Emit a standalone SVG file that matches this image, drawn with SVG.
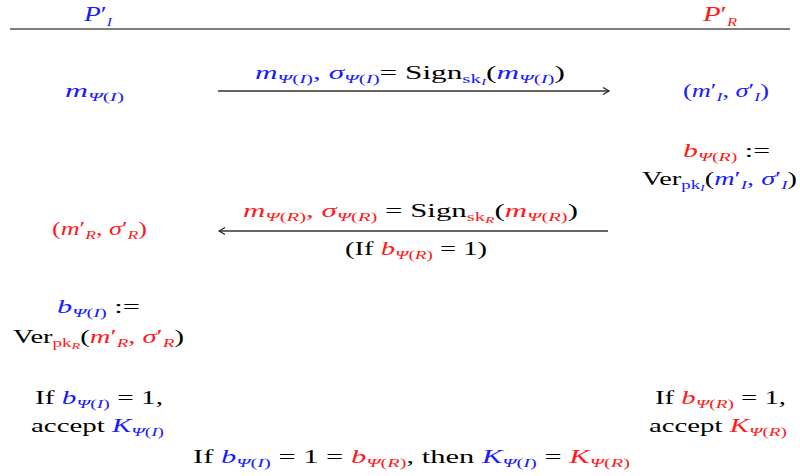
<svg xmlns="http://www.w3.org/2000/svg" width="800" height="476" viewBox="0 0 800 476">
<defs>
<style>
text{font-family:"Liberation Serif","DejaVu Serif",serif;font-size:18px;fill:#000}
.b{fill:#1a1aff}.r{fill:#ff1a1a}.i{font-style:italic}.s{font-size:12px}.ss{font-size:9px}.h{font-size:21px}
.arr{stroke:#333;stroke-width:1.3;fill:none}
</style>
<marker id="hR" markerWidth="10" markerHeight="10" refX="7" refY="4" orient="auto" markerUnits="userSpaceOnUse"><path d="M1,0.5 L7,4 L1,7.5" fill="none" stroke="#222" stroke-width="1.2"/></marker>
<marker id="hL" markerWidth="10" markerHeight="10" refX="1" refY="4" orient="auto" markerUnits="userSpaceOnUse"><path d="M7,0.5 L1,4 L7,7.5" fill="none" stroke="#222" stroke-width="1.2"/></marker>
</defs>
<g id="header">
<text x="98" y="21" text-anchor="middle" class="b h" textLength="28" lengthAdjust="spacingAndGlyphs"><tspan class="i">P</tspan>′<tspan class="s i" dy="5">I</tspan></text>
<text x="720" y="21" text-anchor="middle" class="r h" textLength="34" lengthAdjust="spacingAndGlyphs"><tspan class="i">P</tspan>′<tspan class="s i" dy="5">R</tspan></text>
<line x1="10" y1="29" x2="790" y2="29" stroke="#000" stroke-width="1.2"/>
</g>
<g id="connectors">
<line class="arr" x1="218" y1="91" x2="609" y2="91" marker-end="url(#hR)"/>
<line class="arr" x1="219" y1="231" x2="608" y2="231" marker-start="url(#hL)"/>
</g>
<g id="mI">
<text x="94.5" y="97" text-anchor="middle" class="b" textLength="59" lengthAdjust="spacingAndGlyphs"><tspan class="i">m</tspan><tspan class="s i" dy="4">Ψ</tspan><tspan class="s">(</tspan><tspan class="s i">I</tspan><tspan class="s">)</tspan></text>
</g>
<g id="msg1">
<text x="410" y="79" text-anchor="middle" textLength="310" lengthAdjust="spacingAndGlyphs"><tspan class="b i">m</tspan><tspan class="b s i" dy="4">Ψ</tspan><tspan class="b s">(</tspan><tspan class="b s i">I</tspan><tspan class="b s">)</tspan><tspan class="b" dy="-4">, </tspan><tspan class="b i">σ</tspan><tspan class="b s i" dy="4">Ψ</tspan><tspan class="b s">(</tspan><tspan class="b s i">I</tspan><tspan class="b s">)</tspan><tspan dy="-4">= Sign</tspan><tspan class="b s" dy="4">sk</tspan><tspan class="b ss i" dy="2">I</tspan><tspan dy="-6">(</tspan><tspan class="b i">m</tspan><tspan class="b s i" dy="4">Ψ</tspan><tspan class="b s">(</tspan><tspan class="b s i">I</tspan><tspan class="b s">)</tspan><tspan dy="-4">)</tspan></text>
</g>
<g id="recvI">
<text x="726" y="97" text-anchor="middle" class="b" textLength="86" lengthAdjust="spacingAndGlyphs">(<tspan class="i">m</tspan>′<tspan class="s i" dy="4">I</tspan><tspan dy="-4">, </tspan><tspan class="i">σ</tspan>′<tspan class="s i" dy="4">I</tspan><tspan dy="-4">)</tspan></text>
</g>
<g id="verR">
<text x="726.5" y="157" text-anchor="middle" textLength="87" lengthAdjust="spacingAndGlyphs"><tspan class="r i">b</tspan><tspan class="r s i" dy="4">Ψ</tspan><tspan class="r s">(</tspan><tspan class="r s i">R</tspan><tspan class="r s">)</tspan><tspan dy="-4"> :=</tspan></text>
<text x="719.5" y="185" text-anchor="middle" textLength="155" lengthAdjust="spacingAndGlyphs">Ver<tspan class="b s" dy="4">pk</tspan><tspan class="b ss i" dy="2">I</tspan><tspan dy="-6">(</tspan><tspan class="b i">m</tspan><tspan class="b">′</tspan><tspan class="b s i" dy="4">I</tspan><tspan class="b" dy="-4">, </tspan><tspan class="b i">σ</tspan><tspan class="b">′</tspan><tspan class="b s i" dy="4">I</tspan><tspan dy="-4">)</tspan></text>
</g>
<g id="msg2">
<text x="410.5" y="217" text-anchor="middle" textLength="335" lengthAdjust="spacingAndGlyphs"><tspan class="r i">m</tspan><tspan class="r s i" dy="4">Ψ</tspan><tspan class="r s">(</tspan><tspan class="r s i">R</tspan><tspan class="r s">)</tspan><tspan class="r" dy="-4">, </tspan><tspan class="r i">σ</tspan><tspan class="r s i" dy="4">Ψ</tspan><tspan class="r s">(</tspan><tspan class="r s i">R</tspan><tspan class="r s">)</tspan><tspan dy="-4"> = Sign</tspan><tspan class="r s" dy="4">sk</tspan><tspan class="r ss i" dy="2">R</tspan><tspan dy="-6">(</tspan><tspan class="r i">m</tspan><tspan class="r s i" dy="4">Ψ</tspan><tspan class="r s">(</tspan><tspan class="r s i">R</tspan><tspan class="r s">)</tspan><tspan dy="-4">)</tspan></text>
<text x="416" y="255" text-anchor="middle" textLength="142" lengthAdjust="spacingAndGlyphs">(If <tspan class="r i">b</tspan><tspan class="r s i" dy="4">Ψ</tspan><tspan class="r s">(</tspan><tspan class="r s i">R</tspan><tspan class="r s">)</tspan><tspan dy="-4"> = 1)</tspan></text>
</g>
<g id="recvR">
<text x="99.5" y="235" text-anchor="middle" class="r" textLength="95" lengthAdjust="spacingAndGlyphs">(<tspan class="i">m</tspan>′<tspan class="s i" dy="4">R</tspan><tspan dy="-4">, </tspan><tspan class="i">σ</tspan>′<tspan class="s i" dy="4">R</tspan><tspan dy="-4">)</tspan></text>
</g>
<g id="verI">
<text x="98.5" y="313" text-anchor="middle" textLength="83" lengthAdjust="spacingAndGlyphs"><tspan class="b i">b</tspan><tspan class="b s i" dy="4">Ψ</tspan><tspan class="b s">(</tspan><tspan class="b s i">I</tspan><tspan class="b s">)</tspan><tspan dy="-4"> :=</tspan></text>
<text x="98.5" y="343" text-anchor="middle" textLength="171" lengthAdjust="spacingAndGlyphs">Ver<tspan class="r s" dy="4">pk</tspan><tspan class="r ss i" dy="2">R</tspan><tspan dy="-6">(</tspan><tspan class="r i">m</tspan><tspan class="r">′</tspan><tspan class="r s i" dy="4">R</tspan><tspan class="r" dy="-4">, </tspan><tspan class="r i">σ</tspan><tspan class="r">′</tspan><tspan class="r s i" dy="4">R</tspan><tspan dy="-4">)</tspan></text>
</g>
<g id="acceptI">
<text x="99" y="404" text-anchor="middle" textLength="128" lengthAdjust="spacingAndGlyphs">If <tspan class="b i">b</tspan><tspan class="b s i" dy="4">Ψ</tspan><tspan class="b s">(</tspan><tspan class="b s i">I</tspan><tspan class="b s">)</tspan><tspan dy="-4"> = 1,</tspan></text>
<text x="97.5" y="432" text-anchor="middle" textLength="133" lengthAdjust="spacingAndGlyphs">accept <tspan class="b i">K</tspan><tspan class="b s i" dy="4">Ψ</tspan><tspan class="b s">(</tspan><tspan class="b s i">I</tspan><tspan class="b s">)</tspan></text>
</g>
<g id="acceptR">
<text x="720.5" y="404" text-anchor="middle" textLength="131" lengthAdjust="spacingAndGlyphs">If <tspan class="r i">b</tspan><tspan class="r s i" dy="4">Ψ</tspan><tspan class="r s">(</tspan><tspan class="r s i">R</tspan><tspan class="r s">)</tspan><tspan dy="-4"> = 1,</tspan></text>
<text x="718" y="432" text-anchor="middle" textLength="138" lengthAdjust="spacingAndGlyphs">accept <tspan class="r i">K</tspan><tspan class="r s i" dy="4">Ψ</tspan><tspan class="r s">(</tspan><tspan class="r s i">R</tspan><tspan class="r s">)</tspan></text>
</g>
<g id="result">
<text x="411.5" y="463" text-anchor="middle" textLength="437" lengthAdjust="spacingAndGlyphs">If <tspan class="b i">b</tspan><tspan class="b s i" dy="4">Ψ</tspan><tspan class="b s">(</tspan><tspan class="b s i">I</tspan><tspan class="b s">)</tspan><tspan dy="-4"> = 1 = </tspan><tspan class="r i">b</tspan><tspan class="r s i" dy="4">Ψ</tspan><tspan class="r s">(</tspan><tspan class="r s i">R</tspan><tspan class="r s">)</tspan><tspan dy="-4">, then </tspan><tspan class="b i">K</tspan><tspan class="b s i" dy="4">Ψ</tspan><tspan class="b s">(</tspan><tspan class="b s i">I</tspan><tspan class="b s">)</tspan><tspan dy="-4"> = </tspan><tspan class="r i">K</tspan><tspan class="r s i" dy="4">Ψ</tspan><tspan class="r s">(</tspan><tspan class="r s i">R</tspan><tspan class="r s">)</tspan></text>
</g>
</svg>
